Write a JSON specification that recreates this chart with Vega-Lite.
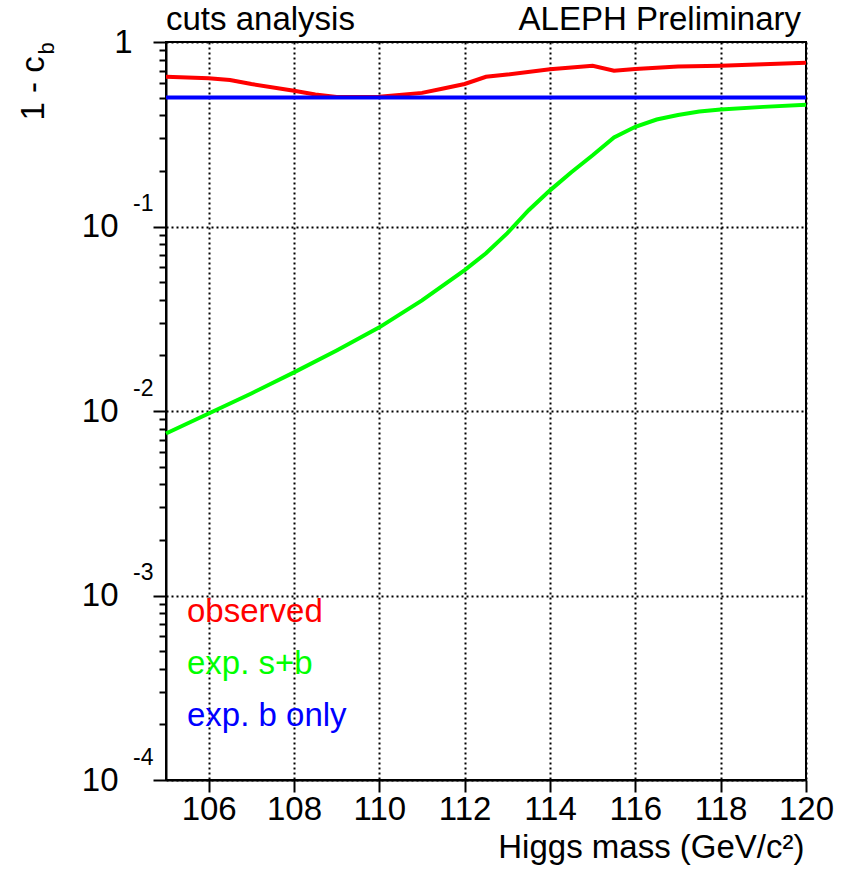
{
  "$schema": "https://vega.github.io/schema/vega-lite/v6.json",
  "width": 640,
  "height": 738,
  "autosize": {"type": "none"},
  "padding": {"left": 166, "top": 42, "right": 46, "bottom": 94},
  "background": "white",
  "config": {
    "font": "Liberation Sans",
    "view": {"stroke": "black", "strokeWidth": 2}
  },
  "datasets": {
    "curves": [
      {"series": "exp. s+b", "mass": 105, "value": 0.00755},
      {"series": "exp. s+b", "mass": 106, "value": 0.0097},
      {"series": "exp. s+b", "mass": 107, "value": 0.01245},
      {"series": "exp. s+b", "mass": 108, "value": 0.0162},
      {"series": "exp. s+b", "mass": 109, "value": 0.0213},
      {"series": "exp. s+b", "mass": 110, "value": 0.0284},
      {"series": "exp. s+b", "mass": 111, "value": 0.0398},
      {"series": "exp. s+b", "mass": 112, "value": 0.058},
      {"series": "exp. s+b", "mass": 112.5, "value": 0.0716},
      {"series": "exp. s+b", "mass": 113, "value": 0.092},
      {"series": "exp. s+b", "mass": 113.5, "value": 0.1225},
      {"series": "exp. s+b", "mass": 114, "value": 0.157},
      {"series": "exp. s+b", "mass": 114.5, "value": 0.197},
      {"series": "exp. s+b", "mass": 115, "value": 0.2435},
      {"series": "exp. s+b", "mass": 115.5, "value": 0.304},
      {"series": "exp. s+b", "mass": 116, "value": 0.347},
      {"series": "exp. s+b", "mass": 116.5, "value": 0.38},
      {"series": "exp. s+b", "mass": 117, "value": 0.402},
      {"series": "exp. s+b", "mass": 117.5, "value": 0.42},
      {"series": "exp. s+b", "mass": 118, "value": 0.431},
      {"series": "exp. s+b", "mass": 119, "value": 0.445},
      {"series": "exp. s+b", "mass": 120, "value": 0.457},
      {"series": "observed", "mass": 105, "value": 0.648},
      {"series": "observed", "mass": 106, "value": 0.636},
      {"series": "observed", "mass": 106.5, "value": 0.622},
      {"series": "observed", "mass": 107, "value": 0.592},
      {"series": "observed", "mass": 108, "value": 0.544},
      {"series": "observed", "mass": 108.5, "value": 0.519},
      {"series": "observed", "mass": 109, "value": 0.503},
      {"series": "observed", "mass": 110, "value": 0.505},
      {"series": "observed", "mass": 111, "value": 0.53},
      {"series": "observed", "mass": 111.5, "value": 0.56},
      {"series": "observed", "mass": 112, "value": 0.592},
      {"series": "observed", "mass": 112.5, "value": 0.648},
      {"series": "observed", "mass": 113, "value": 0.666},
      {"series": "observed", "mass": 114, "value": 0.711},
      {"series": "observed", "mass": 115, "value": 0.744},
      {"series": "observed", "mass": 115.5, "value": 0.699},
      {"series": "observed", "mass": 116, "value": 0.714},
      {"series": "observed", "mass": 117, "value": 0.736},
      {"series": "observed", "mass": 118, "value": 0.744},
      {"series": "observed", "mass": 119, "value": 0.757},
      {"series": "observed", "mass": 120, "value": 0.772},
      {"series": "exp. b only", "mass": 105, "value": 0.5},
      {"series": "exp. b only", "mass": 120, "value": 0.5}
    ],
    "headers": [
      {"label": "cuts analysis", "mass": 105, "value": 1},
      {"label": "ALEPH Preliminary", "mass": 120, "value": 1}
    ]
  },
  "layer": [
    {
      "data": {"name": "curves"},
      "mark": {"type": "line", "strokeWidth": 4},
      "encoding": {
        "x": {
          "field": "mass",
          "type": "quantitative",
          "scale": {"domain": [105, 120], "nice": false, "zero": false},
          "axis": {
            "values": [106, 108, 110, 112, 114, 116, 118, 120],
            "format": "d",
            "domainColor": "black",
            "domainWidth": 2,
            "tickColor": "black",
            "tickWidth": 2,
            "tickSize": 12,
            "labelFontSize": 33,
            "labelColor": "black",
            "labelPadding": 1,
            "labelBaseline": "top",
            "labelFlush": false,
            "labelOverlap": false,
            "grid": true,
            "gridColor": "black",
            "gridDash": [2, 3],
            "gridWidth": 2,
            "gridOpacity": 1,
            "title": "Higgs mass (GeV/c²)",
            "titleFontSize": 33,
            "titleFontWeight": "normal",
            "titleColor": "black",
            "titleAnchor": null,
            "titleAlign": "right",
            "titleBaseline": "alphabetic",
            "titleX": 638,
            "titleY": 77
          }
        },
        "y": {
          "field": "value",
          "type": "quantitative",
          "scale": {"type": "log", "domain": [0.0001, 1], "nice": false},
          "axis": {
            "values": [0.0001, 0.0002, 0.0003, 0.0004, 0.0005, 0.0006, 0.0007, 0.0008, 0.0009,
                       0.001, 0.002, 0.003, 0.004, 0.005, 0.006, 0.007, 0.008, 0.009,
                       0.01, 0.02, 0.03, 0.04, 0.05, 0.06, 0.07, 0.08, 0.09,
                       0.1, 0.2, 0.3, 0.4, 0.5, 0.6, 0.7, 0.8, 0.9, 1],
            "labelExpr": "datum.value == 1 ? '1' : (abs(log(datum.value) / LN10 - round(log(datum.value) / LN10)) < 0.000001 ? '10' : '')",
            "domainColor": "black",
            "domainWidth": 2,
            "tickColor": "black",
            "tickWidth": 2,
            "tickSize": {
              "condition": {"test": "abs(log(datum.value) / LN10 - round(log(datum.value) / LN10)) < 0.000001", "value": 13},
              "value": 7
            },
            "labelFontSize": 33,
            "labelColor": "black",
            "labelAlign": "right",
            "labelBaseline": "middle",
            "labelPadding": {
              "condition": {"test": "datum.value == 1", "value": 21},
              "value": 35
            },
            "labelOverlap": false,
            "labelFlush": false,
            "grid": true,
            "gridColor": "black",
            "gridDash": [2, 3],
            "gridWidth": 2,
            "gridOpacity": {
              "condition": {"test": "abs(log(datum.value) / LN10 - round(log(datum.value) / LN10)) < 0.000001", "value": 1},
              "value": 0
            },
            "title": "1 - c",
            "titleFontSize": 33,
            "titleFontWeight": "normal",
            "titleColor": "black",
            "titleAngle": -90,
            "titleAnchor": null,
            "titleAlign": "left",
            "titleBaseline": "alphabetic",
            "titleX": -123,
            "titleY": 78
          }
        },
        "color": {
          "field": "series",
          "type": "nominal",
          "sort": null,
          "scale": {
            "domain": ["observed", "exp. s+b", "exp. b only"],
            "range": ["#ff0000", "#00ff00", "#0000ff"]
          },
          "legend": {
            "orient": "none",
            "legendX": -12,
            "legendY": 553,
            "title": null,
            "padding": 0,
            "symbolSize": 0,
            "symbolOpacity": 0,
            "symbolStrokeWidth": 0,
            "labelFontSize": 33,
            "labelOffset": 0,
            "labelLimit": 400,
            "rowPadding": 18,
            "encode": {
              "labels": {"update": {"fill": {"scale": "color", "field": "value"}}}
            }
          }
        }
      }
    },
    {
      "data": {"name": "curves"},
      "mark": {"type": "point", "opacity": 0},
      "encoding": {
        "y": {
          "field": "value",
          "type": "quantitative",
          "axis": {
            "orient": "left",
            "values": [0.0001, 0.001, 0.01, 0.1],
            "labelExpr": "'-' + format(-round(log(datum.value) / LN10), 'd')",
            "domain": false,
            "ticks": false,
            "grid": false,
            "labelFontSize": 23,
            "labelColor": "black",
            "labelAlign": "right",
            "labelBaseline": "middle",
            "labelPadding": 13,
            "labelOffset": -23,
            "labelOverlap": false,
            "labelFlush": false,
            "title": "b",
            "titleFontSize": 22,
            "titleFontWeight": "normal",
            "titleColor": "black",
            "titleAngle": -90,
            "titleAnchor": null,
            "titleAlign": "left",
            "titleBaseline": "alphabetic",
            "titleX": -113,
            "titleY": 12
          }
        }
      }
    },
    {
      "data": {"name": "headers"},
      "transform": [{"filter": "datum.mass == 105"}],
      "mark": {"type": "text", "align": "left", "baseline": "alphabetic", "fontSize": 33, "dy": -12, "fill": "black"},
      "encoding": {
        "x": {"field": "mass", "type": "quantitative"},
        "y": {"field": "value", "type": "quantitative", "axis": null},
        "text": {"field": "label"}
      }
    },
    {
      "data": {"name": "headers"},
      "transform": [{"filter": "datum.mass == 120"}],
      "mark": {"type": "text", "align": "right", "baseline": "alphabetic", "fontSize": 33, "dy": -12, "dx": -5, "fill": "black"},
      "encoding": {
        "x": {"field": "mass", "type": "quantitative"},
        "y": {"field": "value", "type": "quantitative", "axis": null},
        "text": {"field": "label"}
      }
    }
  ],
  "resolve": {"axis": {"y": "independent"}}
}
